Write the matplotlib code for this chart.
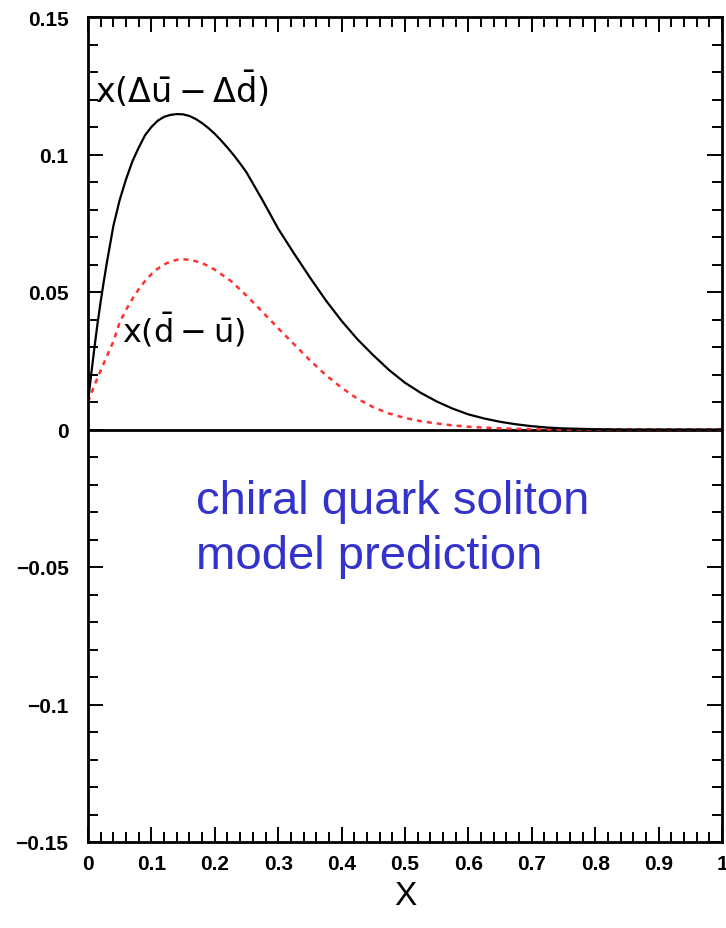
import matplotlib
matplotlib.use("Agg")
import matplotlib.pyplot as plt
from matplotlib.ticker import MultipleLocator, FixedLocator

# Data
x_pol = [0.0, 0.005, 0.01, 0.015, 0.02, 0.025, 0.03, 0.04, 0.05, 0.06, 0.07, 0.08, 0.09,
         0.1, 0.11, 0.12, 0.13, 0.14, 0.15, 0.16, 0.17, 0.18, 0.19, 0.2, 0.21, 0.22, 0.23,
         0.24, 0.25, 0.275, 0.3, 0.325, 0.35, 0.375, 0.4, 0.425, 0.45, 0.475, 0.5, 0.525,
         0.55, 0.575, 0.6, 0.625, 0.65, 0.675, 0.7, 0.725, 0.75, 0.8, 0.85, 1.0]
y_pol = [0.0100, 0.0200, 0.0295, 0.0385, 0.0465, 0.0540, 0.0610, 0.0740, 0.0835, 0.0910,
         0.0975, 0.1025, 0.1070, 0.1100, 0.1123, 0.1137, 0.1144, 0.1147, 0.1146, 0.1140,
         0.1129, 0.1114, 0.1096, 0.1075, 0.1051, 0.1025, 0.0997, 0.0967, 0.0935, 0.0835,
         0.0730, 0.0640, 0.0553, 0.0470, 0.0395, 0.0328, 0.0270, 0.0216, 0.0170, 0.0133,
         0.0102, 0.0076, 0.0055, 0.0040, 0.0028, 0.0019, 0.0012, 0.0007, 0.0004, 0.0001,
         0.0, 0.0]

x_unp = [0.0, 0.01, 0.02, 0.03, 0.04, 0.05, 0.06, 0.07, 0.08, 0.09, 0.1, 0.11, 0.12, 0.13,
         0.14, 0.15, 0.16, 0.17, 0.18, 0.19, 0.2, 0.225, 0.25, 0.275, 0.3, 0.325, 0.35,
         0.375, 0.4, 0.425, 0.45, 0.475, 0.5, 0.525, 0.55, 0.575, 0.6, 0.65, 0.7, 0.75, 1.0]
y_unp = [0.0100, 0.0160, 0.0215, 0.0268, 0.0320, 0.0390, 0.0435, 0.0475, 0.0510, 0.0540,
         0.0565, 0.0585, 0.0600, 0.0611, 0.0617, 0.0619, 0.0617, 0.0612, 0.0605, 0.0594,
         0.0581, 0.0541, 0.0487, 0.0428, 0.0368, 0.0310, 0.0252, 0.0198, 0.0152, 0.0112,
         0.0081, 0.0058, 0.0042, 0.0030, 0.0022, 0.0015, 0.0010, 0.0004, 0.0001, 0.0, 0.0]

x_ticks = [0, 0.1, 0.2, 0.3, 0.4, 0.5, 0.6, 0.7, 0.8, 0.9, 1.0]
x_ticklabels = ["0", "0.1", "0.2", "0.3", "0.4", "0.5", "0.6", "0.7", "0.8", "0.9", "1"]
y_ticks = [-0.15, -0.1, -0.05, 0, 0.05, 0.1, 0.15]
y_ticklabels = ["\u22120.15", "\u22120.1", "\u22120.05", "0", "0.05", "0.1", "0.15"]

label_pol = r"$\mathregular{x(\Delta\bar{u} - \Delta\bar{d})}$"
label_unp = r"$\mathregular{x(\bar{d} - \bar{u})}$"
annotation = ["chiral quark soliton", "model prediction"]

fig = plt.figure(figsize=(7.26, 9.29), dpi=100)
ax = fig.add_axes([88 / 726, (929 - 843) / 929, (722 - 88) / 726, (843 - 18) / 929])

ax.axhline(0, color="black", lw=2.0, zorder=1)
ax.plot(x_pol, y_pol, color="black", lw=1.6, zorder=3, solid_joinstyle="round")
ax.plot(x_unp, y_unp, color="#ff3030", lw=1.8, dashes=(2.0, 2.0), zorder=2)

ax.set_xlim(0, 1)
ax.set_ylim(-0.15, 0.15)

ax.xaxis.set_major_locator(FixedLocator(x_ticks))
ax.xaxis.set_minor_locator(MultipleLocator(0.02))
ax.yaxis.set_major_locator(FixedLocator(y_ticks))
ax.yaxis.set_minor_locator(MultipleLocator(0.01))
ax.set_xticklabels(x_ticklabels)
ax.set_yticklabels(y_ticklabels)

ax.tick_params(which="both", direction="in", top=True, right=True, color="black")
ax.tick_params(which="major", length=11, width=1.4)
ax.tick_params(which="minor", length=7, width=1.4)
ax.tick_params(axis="x", which="major", pad=9)
ax.tick_params(axis="y", which="major", pad=14)
for lab in ax.get_xticklabels() + ax.get_yticklabels():
    lab.set_fontfamily("Liberation Sans")
    lab.set_fontweight("bold")
    lab.set_fontsize(15)

for s in ax.spines.values():
    s.set_linewidth(2.0)

ax.set_xlabel("X", fontsize=24, family="Liberation Sans", labelpad=5)

ax.text(0.011, 0.1240, label_pol, fontsize=24, va="center", ha="left", zorder=4)
ax.text(0.054, 0.0365, label_unp, fontsize=23, va="center", ha="left", zorder=4)

ax.text(0.171, -0.0305, annotation[0], fontsize=34, color="#3333cc",
        family="Liberation Sans", va="baseline", ha="left")
ax.text(0.171, -0.0505, annotation[1], fontsize=34, color="#3333cc",
        family="Liberation Sans", va="baseline", ha="left")

fig.savefig("out.png", dpi=100, facecolor="white")
